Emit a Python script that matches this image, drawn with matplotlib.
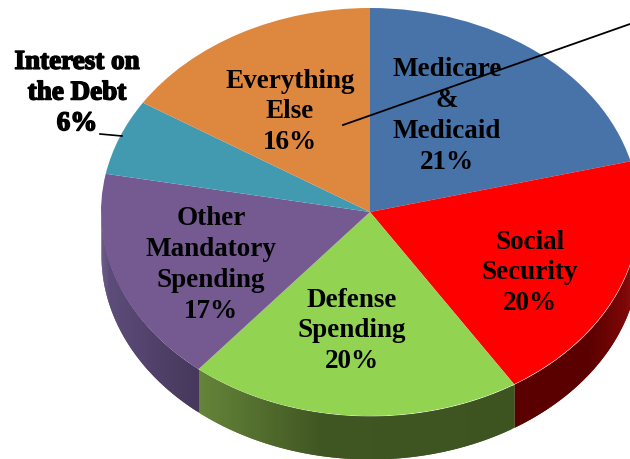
import numpy as np
import matplotlib
matplotlib.use('Agg')
import matplotlib.pyplot as plt
import matplotlib.patheffects as pe
from matplotlib.colors import to_rgb
from matplotlib.transforms import Affine2D

categories = ['Medicare\n&\nMedicaid', 'Social\nSecurity', 'Defense\nSpending',
              'Other\nMandatory\nSpending', 'Interest on\nthe Debt', 'Everything\nElse']
shares = [21, 20, 20, 17, 6, 16]
colors = ['#4873A9', '#FF0000', '#92D451', '#745A91', '#429AB1', '#DE873F']

# side wall shades from left to right, with how far along each one sits
wall_shades = [None,
               (['#5A0000', '#5A0000', '#8A0A0A'], [0, 0.6, 1]),
               (['#658539', '#3F5522', '#3D5421'], [0, 0.4, 1]),
               (['#5E4D7C', '#46375B'], [0, 1]),
               None, None]

W, H = 630, 460
cx, cy, rx, ry = 370, 213, 269, 204
depth = 43
font = 'Liberation Serif'

fig = plt.figure(figsize=(W / 100, H / 100), dpi=100)
ax = fig.add_axes([0, 0, 1, 1])

# px places things in picture pixels, y going down
px = Affine2D().scale(1 / W, -1 / H).translate(0, 1) + fig.transFigure

# rim of the pie, thin overlapping strips so the shade can run along it
edges = np.cumsum([0] + shares) / sum(shares) * 360
for i, shade in enumerate(wall_shades):
    if shade is None:
        continue
    start = max(edges[i], 90)
    stop = min(edges[i + 1], 270)
    t = np.radians(np.linspace(start, stop, 120))
    x = np.sin(t)
    y = np.cos(t)
    rgb = np.array([to_rgb(c) for c in shade[0]])
    for j in np.argsort(x)[::-1] if x[0] > x[-1] else range(len(t)):
        if j >= len(t) - 1:
            continue
        f = (x[j] - x.min()) / (x.max() - x.min())
        col = [np.interp(f, shade[1], rgb[:, k]) for k in range(3)]
        end = min(j + 3, len(t))
        ax.fill_between(x[j:end], y[j:end], y[j:end] - depth / ry, color=col, lw=0)

ax.pie(shares, colors=colors, startangle=90, counterclock=False, radius=1,
       wedgeprops={'linewidth': 0})
ax.set_aspect('auto')
ax.set_xlim((0 - cx) / rx, (W - cx) / rx)
ax.set_ylim((cy - H) / ry, cy / ry)
ax.axis('off')

# slice captions, centred on these pixel spots
spots = [(447, 116), (530, 273), (352, 331), (211, 265), (77, 94), (290, 112)]
for i, (name, share, (sx, sy)) in enumerate(zip(categories, shares, spots)):
    t = ax.text(sx, sy, f'{name}\n{share}%', transform=px, ha='center', va='center',
                fontsize=19.5, fontweight='bold', family=font, color='black',
                linespacing=1.3, zorder=5)
    if i == 4:
        t.set_path_effects([pe.withStroke(linewidth=1.1, foreground='black')])

# leader lines
ax.plot([343, 630], [126, 25], transform=px, color='black', lw=1.3, zorder=6, clip_on=False)
ax.plot([100, 122], [135, 137], transform=px, color='black', lw=1.2, zorder=6)

fig.savefig('out.png', dpi=100, facecolor='white')
